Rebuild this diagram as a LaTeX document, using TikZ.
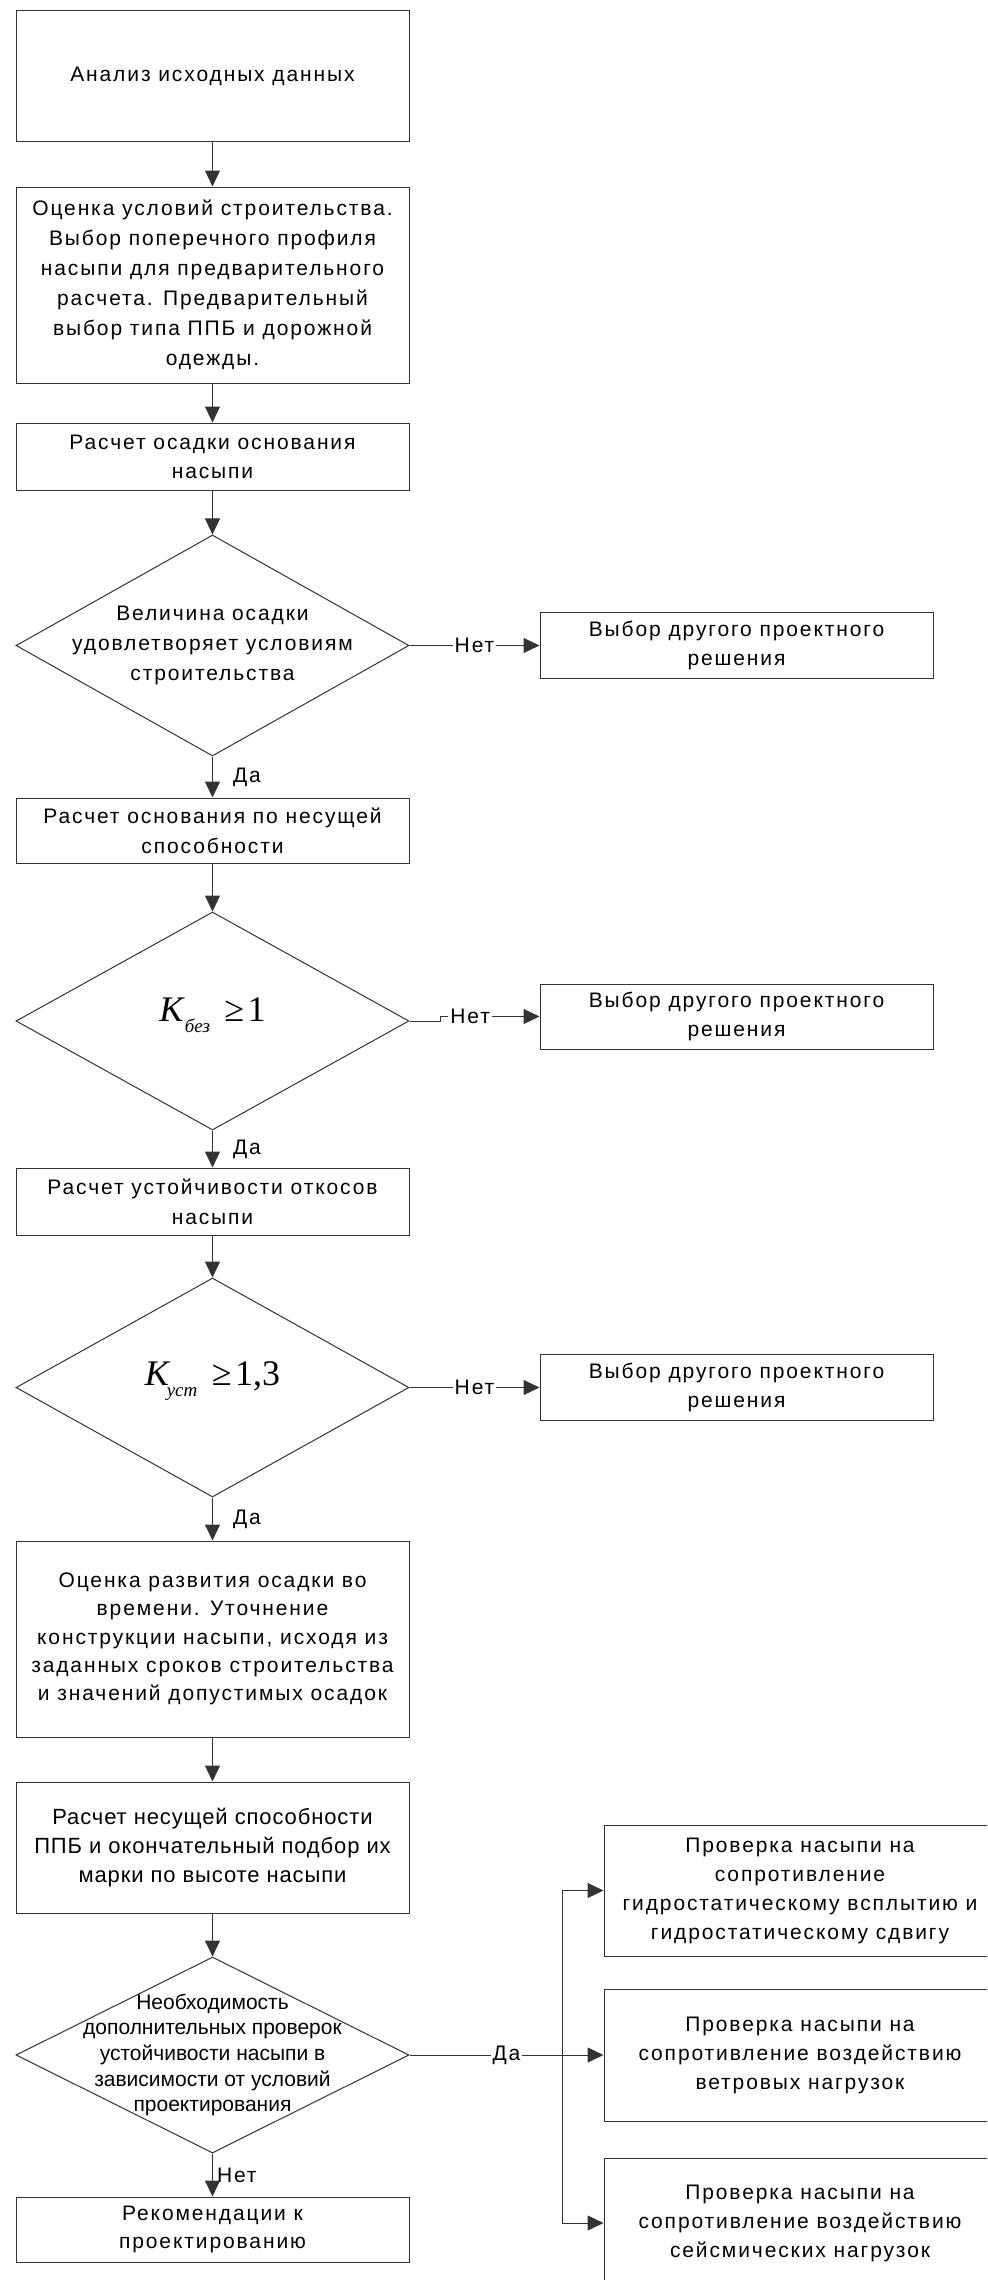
\documentclass[tikz,border=0pt]{standalone}
\usepackage{fontspec}
\setmainfont{Liberation Sans}
\newfontfamily\fmlfont{Liberation Serif}
\usetikzlibrary{arrows.meta, shapes.geometric, positioning}

\tikzset{
  txt/.style n args={3}{font=\fontsize{#1}{#2}\selectfont\addfontfeatures{LetterSpace=#3}},
  blk/.style={draw=black!80, line width=0.5pt, minimum width=196.5pt, align=center, inner sep=1pt},
  cond/.style={diamond, draw=black!80, line width=0.5pt, minimum width=196.5pt, inner sep=0pt},
  condtxt/.style={align=center, inner sep=0pt},
  fml/.style={font=\fmlfont\fontsize{18pt}{20pt}\selectfont, inner sep=0pt, yshift=3pt},
  arr/.style={draw=black!80, line width=0.5pt, -{Triangle[length=8pt,width=7.5pt]}},
  lbl/.style={fill=white, inner sep=1pt, txt={10.5pt}{12pt}{9}},
  yes/.style={right, xshift=9pt, inner sep=1pt, txt={10.5pt}{12pt}{9}},
}

\begin{document}
\begin{tikzpicture}[x=0.5pt, y=-0.5pt]
\useasboundingbox (0,0) rectangle (987,2280);
\clip (0,0) rectangle (987,2280);

% main column
\node[blk, txt={10.5pt}{14.5pt}{9}, minimum height=65.5pt] (anl) at (212.5,76.5) {Анализ исходных данных};
\node[blk, txt={10.5pt}{15pt}{9}, minimum height=98pt] (ocn) at (212.5,285) {Оценка условий строительства.\\ Выбор поперечного профиля\\ насыпи для предварительного\\ расчета. Предварительный\\ выбор типа ППБ и дорожной\\ одежды.};
\node[blk, txt={10.5pt}{14.5pt}{9}, minimum height=33.5pt] (osd) at (212.5,456.5) {Расчет осадки основания\\ насыпи};
\node[cond, minimum height=110.5pt] (vel) at (212.5,645.5) {};
\node[condtxt, txt={10.5pt}{15pt}{9}] (velt) at (vel) {Величина осадки\\ удовлетворяет условиям\\ строительства};
\node[blk, txt={10.5pt}{15pt}{9}, minimum height=32.5pt] (nes) at (212.5,830.5) {Расчет основания по несущей\\ способности};
\node[cond, minimum height=109pt] (kb) at (212.5,1021) {};
\node[fml] (kbt) at (kb) {\textit{K}\raisebox{-0.3em}{\fontsize{9.5pt}{10pt}\selectfont\itshape без}\hspace{0.4em}≥\hspace{0.1em}1};
\node[blk, txt={10.5pt}{15pt}{9}, minimum height=33.5pt] (otk) at (212.5,1201.5) {Расчет устойчивости откосов\\ насыпи};
\node[cond, minimum height=109.5pt] (ku) at (212.5,1387.5) {};
\node[fml] (kut) at (ku) {\textit{K}\hspace{-0.1em}\raisebox{-0.3em}{\fontsize{9.5pt}{10pt}\selectfont\itshape уст}\hspace{0.4em}≥\hspace{0.1em}1,3};
\node[blk, txt={10.5pt}{14.2pt}{9}, minimum height=98pt] (razv) at (212.5,1639) {Оценка развития осадки во\\ времени. Уточнение\\ конструкции насыпи, исходя из\\ заданных сроков строительства\\ и значений допустимых осадок};
\node[blk, txt={11pt}{14.5pt}{4}, minimum height=65.5pt] (ppb) at (212.5,1847.5) {Расчет несущей способности\\ ППБ и окончательный подбор их\\ марки по высоте насыпи};
\node[cond, minimum height=98pt] (dop) at (212.5,2055) {};
\node[condtxt, txt={10.5pt}{12.8pt}{0}] (dopt) at (dop) {Необходимость\\ дополнительных проверок\\ устойчивости насыпи в\\ зависимости от условий\\ проектирования};
\node[blk, txt={10.5pt}{14pt}{9}, minimum height=32.5pt] (rek) at (212.5,2229.5) {Рекомендации к\\ проектированию};

% other design choices
\node[blk, txt={10.5pt}{14.5pt}{9}, minimum height=33pt] (alt1) at (736.5,645.5) {Выбор другого проектного\\ решения};
\node[blk, txt={10.5pt}{14.5pt}{9}, minimum height=32.5pt] (alt2) at (736.5,1016.5) {Выбор другого проектного\\ решения};
\node[blk, txt={10.5pt}{14.5pt}{9}, minimum height=33pt] (alt3) at (736.5,1387.5) {Выбор другого проектного\\ решения};

% extra checks
\node[blk, txt={10.5pt}{14.5pt}{9}, minimum width=196pt, minimum height=65.5pt] (chk1) at (800,1890.5) {Проверка насыпи на\\ сопротивление\\ гидростатическому всплытию и\\ гидростатическому сдвигу};
\node[blk, txt={10.5pt}{14.5pt}{9}, minimum width=196pt, minimum height=66pt] (chk2) at (800,2055) {Проверка насыпи на\\ сопротивление воздействию\\ ветровых нагрузок};
\node[blk, txt={10.5pt}{14.5pt}{9}, minimum width=196pt, minimum height=65pt] (chk3) at (800,2223) {Проверка насыпи на\\ сопротивление воздействию\\ сейсмических нагрузок};
\coordinate (fork) at (562,2055);

% connectors
\draw[arr] (anl) -- (ocn);
\draw[arr] (ocn) -- (osd);
\draw[arr] (osd) -- (vel);
\draw[arr] (vel) -- node[lbl]{Нет} (alt1);
\draw[arr] (vel) -- node[yes]{Да} (nes);
\draw[arr] (nes) -- (kb);
\draw[arr] (kb.east) -- ++(31,0) |- node[lbl, pos=0.65]{Нет} (alt2.west);
\draw[arr] (kb) -- node[yes]{Да} (otk);
\draw[arr] (otk) -- (ku);
\draw[arr] (ku) -- node[lbl]{Нет} (alt3);
\draw[arr] (ku) -- node[yes]{Да} (razv);
\draw[arr] (razv) -- (ppb);
\draw[arr] (ppb) -- (dop);
\draw[arr] (dop) -- node[yes, xshift=-8pt]{Нет} (rek);
\draw[arr] (dop) -- node[lbl]{Да} (chk2);
\draw[arr] (fork) |- (chk1.west);
\draw[arr] (fork) |- (chk3.west);
\end{tikzpicture}
\end{document}
